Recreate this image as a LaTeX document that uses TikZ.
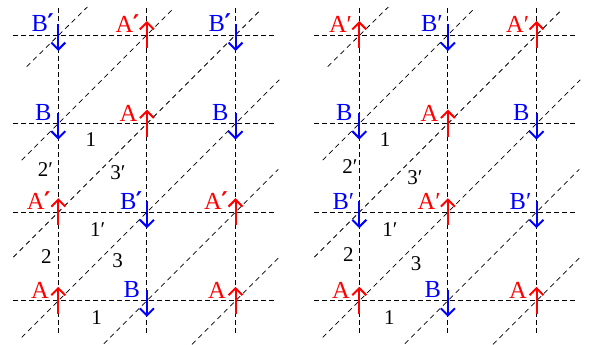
\documentclass[tikz,border=0pt]{standalone}
\usepackage{fontspec}
\setmainfont{Liberation Serif}
\newfontfamily\primefont{DejaVu Serif}
\usetikzlibrary{arrows.meta,calc}
\newcommand{\thickprime}{{\primefont\bfseries\kern-0.5pt ′}}
\begin{document}
\begin{tikzpicture}[x=1pt,y=-1pt,
  gridln/.style={dash pattern=on 5pt off 3pt, line width=0.9pt},
  diagln/.style={dash pattern=on 5pt off 4pt, line width=0.75pt},
  uparr/.style={red, line width=2pt, -{Straight Barb[length=7pt,width=14pt]}},
  dnarr/.style={blue, line width=2pt, -{Straight Barb[length=7pt,width=14pt]}},
  lab/.style={font=\fontsize{24.5}{29}\selectfont, inner sep=0pt, anchor=base west},
  num/.style={font=\fontsize{21}{25}\selectfont, inner sep=0pt},
]
\useasboundingbox (0,0) rectangle (597,345);
% grid points
\foreach \p/\dx in {L/0,R/301}{
  \foreach \i in {0,1,2}{
    \foreach \j in {0,1,2,3}{
      \coordinate (\p\i\j) at (58.3+\dx+88.6*\i, 35+88.6*\j);
    }
  }
}
\foreach \p in {L,R}{
  % horizontal lines
  \foreach \j in {0,1,2,3}{
    \draw[gridln] ($(\p0\j)+(-45.3,0)$) -- ($(\p2\j)+(40.5,0)$);
  }
  % vertical lines
  \foreach \i in {0,1,2}{
    \draw[gridln] ($(\p\i0)+(0,-27)$) -- ($(\p\i3)+(0,32.2)$);
  }
  % diagonals
  \draw[diagln] ($(\p00)+(-31.6,31.6)$) -- ($(\p00)+(29,-28)$);
  \draw[diagln] ($(\p01)+(-36.6,36.6)$) -- ($(\p01)+(115,-115)$);
  \draw[diagln] ($(\p02)+(-45,45)$) -- ($(\p02)+(201.7,-201.7)$);
  \draw[diagln] ($(\p03)+(-36.6,36.6)$) -- ($(\p03)+(221,-221)$);
  \draw[diagln] ($(\p13)+(-43,43)$) -- ($(\p13)+(131.4,-131.4)$);
  \draw[diagln] ($(\p23)+(-43.5,43.5)$) -- ($(\p23)+(43.8,-43.8)$);
}
% arrows and letter labels: #1 point, #2 x offset of label, #3 text
\newcommand{\upA}[3]{%
  \draw[uparr] ($(#1)+(0,13)$) -- ($(#1)+(0,-14)$);
  \node[lab, text=red] (t#1) at ($(#1)+(#2,-2.5)$) {#3};}
\newcommand{\dnB}[3]{%
  \draw[dnarr] ($(#1)+(0,-11)$) -- ($(#1)+(0,16)$);
  \node[lab, text=blue] (t#1) at ($(#1)+(#2,-3)$) {#3};}
% Left panel
\dnB{L00}{-27}{B\thickprime}
\upA{L10}{-31.5}{A\thickprime}
\dnB{L20}{-27}{B\thickprime}
\dnB{L01}{-23.5}{B}
\upA{L11}{-27.5}{A}
\dnB{L21}{-23.5}{B}
\upA{L02}{-31.5}{A\thickprime}
\dnB{L12}{-27}{B\thickprime}
\upA{L22}{-31.5}{A\thickprime}
\upA{L03}{-27.5}{A}
\dnB{L13}{-23.5}{B}
\upA{L23}{-27.5}{A}
% Right panel
\upA{R00}{-30.5}{A′}
\dnB{R10}{-27}{B′}
\upA{R20}{-30.5}{A′}
\dnB{R01}{-23.5}{B}
\upA{R11}{-27.5}{A}
\dnB{R21}{-23.5}{B}
\dnB{R02}{-27}{B′}
\upA{R12}{-30.5}{A′}
\dnB{R22}{-27}{B′}
\upA{R03}{-27.5}{A}
\dnB{R13}{-23.5}{B}
\upA{R23}{-27.5}{A}
% region numbers, left
\node[num] (nL1a) at (90.8,139.7) {1};
\node[num] (nL2p) at (45.3,170) {2′};
\node[num] (nL3p) at (118,172.5) {3′};
\node[num] (nL1p) at (97.7,229.7) {1′};
\node[num] (nL2) at (46.3,256.7) {2};
\node[num] (nL3) at (117.7,260.3) {3};
\node[num] (nL1b) at (96.7,317.5) {1};
% region numbers, right
\node[num] (nR1a) at (385,139.7) {1};
\node[num] (nR2p) at (350,167) {2′};
\node[num] (nR3p) at (415,178) {3′};
\node[num] (nR1p) at (390,230) {1′};
\node[num] (nR2) at (348.3,255) {2};
\node[num] (nR3) at (416.2,264) {3};
\node[num] (nR1b) at (389.3,317.5) {1};
\end{tikzpicture}
\end{document}
